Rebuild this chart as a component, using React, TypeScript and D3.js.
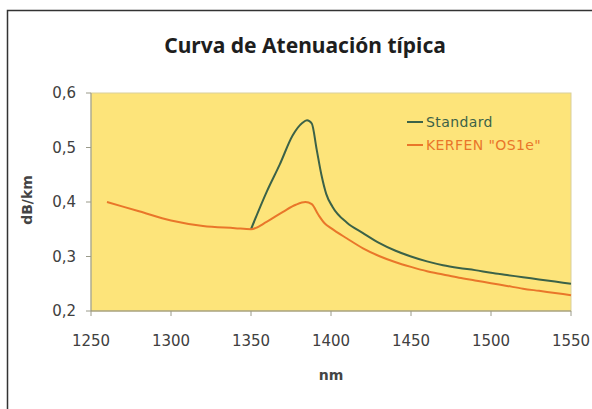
import React from "react";
import * as d3 from "d3";

// wavelength (nm) and attenuation (dB/km)
const kerfenNm = [1260, 1280, 1300, 1320, 1340, 1350, 1360, 1370, 1378, 1384, 1388, 1392, 1396, 1400, 1410, 1420, 1430, 1440, 1450, 1460, 1470, 1480, 1490, 1500, 1510, 1520, 1530, 1540, 1550];
const kerfenDb = [0.4, 0.383, 0.366, 0.356, 0.352, 0.35, 0.364, 0.382, 0.395, 0.4, 0.396, 0.377, 0.361, 0.352, 0.333, 0.315, 0.301, 0.29, 0.281, 0.273, 0.267, 0.261, 0.256, 0.251, 0.246, 0.241, 0.237, 0.233, 0.229];

const standardNm = [1350, 1360, 1368, 1376, 1382, 1385, 1388, 1391, 1394, 1397, 1401, 1410, 1420, 1430, 1440, 1450, 1460, 1470, 1480, 1490, 1500, 1510, 1520, 1530, 1540, 1550];
const standardDb = [0.35, 0.42, 0.469, 0.522, 0.545, 0.55, 0.544, 0.497, 0.45, 0.415, 0.391, 0.362, 0.343, 0.325, 0.311, 0.3, 0.291, 0.284, 0.279, 0.275, 0.27, 0.266, 0.262, 0.258, 0.254, 0.25];

const xTicks = [1250, 1300, 1350, 1400, 1450, 1500, 1550];
const yTicks = [0.2, 0.3, 0.4, 0.5, 0.6];

const seriesNames = ["Standard", 'KERFEN "OS1e"'];
const seriesColors = ["#3b6248", "#e9762a"];

const W = 592;
const H = 409;
const plot = { left: 91, right: 571, top: 93, bottom: 311 };

const x = d3.scaleLinear().domain([1250, 1550]).range([plot.left, plot.right]);
const y = d3.scaleLinear().domain([0.2, 0.6]).range([plot.bottom, plot.top]);

const line = d3
  .line<[number, number]>()
  .x((d) => x(d[0]))
  .y((d) => y(d[1]))
  .curve(d3.curveMonotoneX);

const fmtY = (v: number) => d3.format(".1f")(v).replace(".", ",");

export default function App() {
  const std = standardNm.map((n, i) => [n, standardDb[i]] as [number, number]);
  const ker = kerfenNm.map((n, i) => [n, kerfenDb[i]] as [number, number]);
  const font = "'DejaVu Sans', Arial, sans-serif";

  return (
    <svg
      width={W}
      height={H}
      style={{ position: "absolute", left: 0, top: 0, background: "#fff" }}
    >
      <rect x={7.5} y={10.5} width={620} height={420} fill="none" stroke="#333" strokeWidth={1.5} />

      <text
        x={305}
        y={53}
        textAnchor="middle"
        fontFamily="'Noto Sans', 'DejaVu Sans', sans-serif"
        fontWeight={700}
        fontSize={21}
        fill="#1e1e1e"
      >
        Curva de Atenuación típica
      </text>

      <rect
        x={plot.left}
        y={plot.top}
        width={plot.right - plot.left}
        height={plot.bottom - plot.top}
        fill="#fde47a"
        stroke="#d9d09c"
        strokeWidth={1}
      />

      {/* y axis */}
      <line x1={plot.left} x2={plot.left} y1={plot.top} y2={plot.bottom} stroke="#9a9a8a" />
      {yTicks.map((t) => (
        <g key={t}>
          <line x1={plot.left - 5} x2={plot.left} y1={y(t)} y2={y(t)} stroke="#9a9a8a" />
          <text
            x={plot.left - 15}
            y={y(t)}
            dy="0.35em"
            textAnchor="end"
            fontFamily={font}
            fontSize={15}
            fill="#404040"
          >
            {fmtY(t)}
          </text>
        </g>
      ))}

      {/* x axis */}
      <line x1={plot.left} x2={plot.right} y1={plot.bottom} y2={plot.bottom} stroke="#8f8c70" />
      {xTicks.map((t) => (
        <g key={t}>
          <line x1={x(t)} x2={x(t)} y1={plot.bottom} y2={plot.bottom + 5} stroke="#9a9a8a" />
          <text
            x={x(t)}
            y={plot.bottom + 35}
            textAnchor="middle"
            fontFamily={font}
            fontSize={15}
            fill="#404040"
          >
            {t}
          </text>
        </g>
      ))}

      <text
        x={(plot.left + plot.right) / 2}
        y={380}
        textAnchor="middle"
        fontFamily={font}
        fontWeight={700}
        fontSize={14}
        fill="#444"
      >
        nm
      </text>
      <text
        transform={`translate(32, ${(plot.top + plot.bottom) / 2 - 2}) rotate(-90)`}
        textAnchor="middle"
        fontFamily={font}
        fontWeight={700}
        fontSize={14}
        fill="#444"
      >
        dB/km
      </text>

      <path d={line(std) || ""} fill="none" stroke={seriesColors[0]} strokeWidth={2} />
      <path d={line(ker) || ""} fill="none" stroke={seriesColors[1]} strokeWidth={2} />

      {/* legend */}
      {seriesNames.map((name, i) => (
        <g key={name} transform={`translate(407, ${122 + i * 23})`}>
          <line x1={0} x2={16} y1={0} y2={0} stroke={seriesColors[i]} strokeWidth={2} />
          <text
            x={19}
            y={0}
            dy="0.35em"
            fontFamily={font}
            fontSize={14}
            letterSpacing={0.4}
            fill={seriesColors[i]}
          >
            {name}
          </text>
        </g>
      ))}
    </svg>
  );
}
